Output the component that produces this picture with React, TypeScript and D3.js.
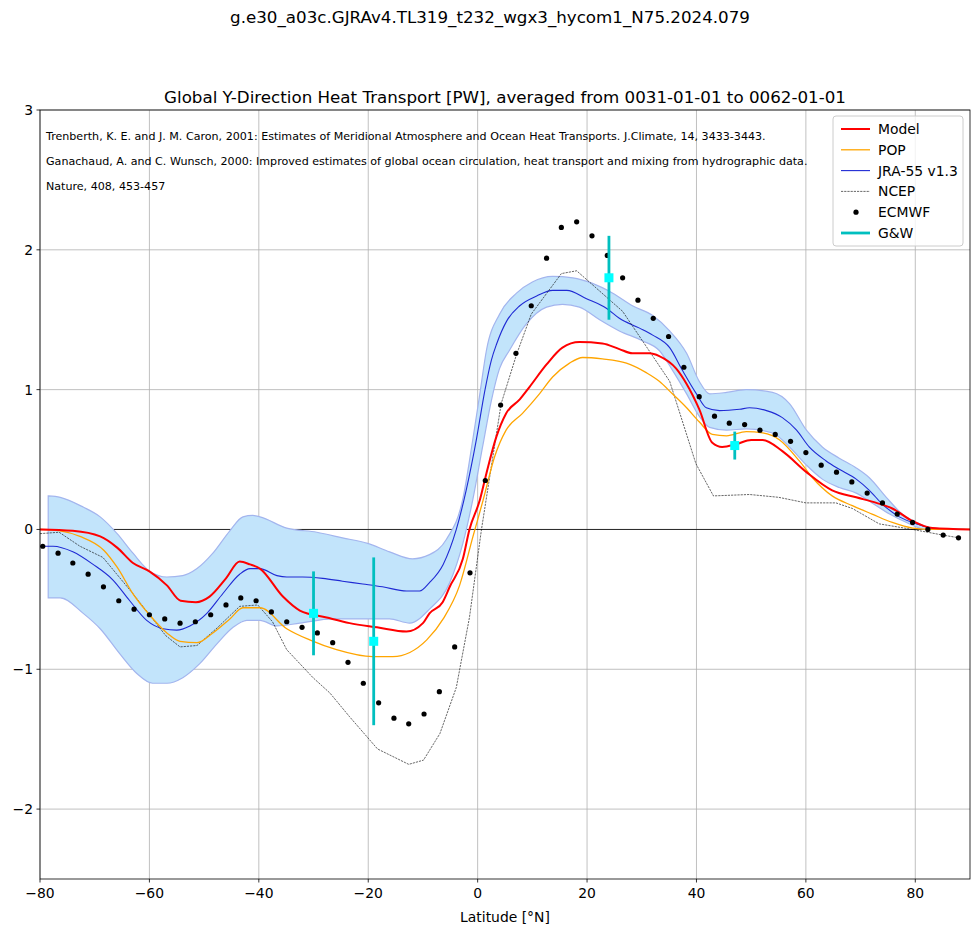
import React, { useEffect, useRef } from 'react';
import * as d3 from 'd3';

type Pt = [number, number];

// Model (red) [lat, PW]
const modelPts: Pt[] = [
  [-80, 0], [-74, -0.01], [-69, -0.05], [-65.9, -0.13], [-63, -0.24], [-60, -0.3], [-56.8, -0.4],
  [-54.3, -0.51], [-51.5, -0.52], [-49, -0.48], [-46, -0.35], [-43.5, -0.23], [-41.6, -0.25],
  [-39.8, -0.28], [-35.6, -0.48], [-32.5, -0.58], [-27.6, -0.63], [-23.4, -0.67], [-18.4, -0.7],
  [-13, -0.73], [-10, -0.67], [-8.8, -0.6], [-6.4, -0.52], [-5.1, -0.41], [-2.7, -0.21],
  [-1.5, 0.0], [0.4, 0.21], [1.6, 0.4], [3.4, 0.66], [5.2, 0.83], [7.7, 0.93], [9.5, 1.02],
  [12.6, 1.18], [15.5, 1.3], [18.6, 1.34], [22.8, 1.33], [25.9, 1.29], [28.3, 1.26], [31.4, 1.26],
  [33.2, 1.24], [36.3, 1.15], [38.2, 1.04], [40.5, 0.86], [42.9, 0.62], [44.7, 0.59], [47.3, 0.61],
  [50, 0.64], [52.1, 0.64], [55.7, 0.56], [60.1, 0.41], [64.8, 0.28], [69.2, 0.23], [72.9, 0.19],
  [75.8, 0.15], [79.5, 0.06], [83.1, 0.01], [90, 0],
];

// POP (orange)
const popPts: Pt[] = [
  [-80, 0], [-76.3, -0.01], [-72.7, -0.05], [-68.3, -0.15], [-65.9, -0.27], [-63, -0.46],
  [-60, -0.61], [-56.8, -0.74], [-54.4, -0.8], [-51.3, -0.81], [-48.4, -0.74], [-45.3, -0.64],
  [-42.9, -0.56], [-39.8, -0.56], [-34.9, -0.71], [-30.7, -0.79], [-25.8, -0.86], [-19.2, -0.91],
  [-15.5, -0.91], [-12.4, -0.88], [-9.3, -0.79], [-6.3, -0.64], [-3.3, -0.4], [-0.85, -0.05],
  [1.0, 0.21], [3.1, 0.52], [5.2, 0.71], [8.2, 0.83], [11.3, 0.97], [13.7, 1.09], [16.8, 1.19],
  [19.2, 1.23], [22.8, 1.22], [27.2, 1.19], [30.9, 1.12], [33.2, 1.06], [35.6, 0.97], [38.2, 0.87],
  [40.5, 0.77], [42.9, 0.68], [45.5, 0.67], [49.1, 0.7], [52.1, 0.69], [55.2, 0.64], [58.8, 0.49],
  [61.2, 0.37], [64.8, 0.24], [68.5, 0.17], [72.1, 0.11], [75.8, 0.05], [79.5, 0.01], [83.1, 0],
  [90, 0],
];

// JRA-55 v1.3 (blue)
const jraPts: Pt[] = [
  [-80, -0.12], [-77.6, -0.12], [-74, -0.16], [-70.3, -0.25], [-66.7, -0.36], [-63.6, -0.51],
  [-60.5, -0.65], [-57.5, -0.71], [-55, -0.72], [-52.6, -0.69], [-49.5, -0.6], [-46.6, -0.46],
  [-43.5, -0.32], [-41.6, -0.28], [-39.8, -0.28], [-36.7, -0.33], [-34.9, -0.34], [-32, -0.34],
  [-28.3, -0.35], [-24.7, -0.37], [-21, -0.39], [-17.4, -0.41], [-13, -0.44], [-10.6, -0.44],
  [-8.8, -0.38], [-6.3, -0.25], [-3.9, 0.0], [-2.1, 0.28], [-0.2, 0.65], [1.3, 0.99],
  [2.5, 1.21], [3.5, 1.33], [5.3, 1.49], [7.7, 1.6], [10.8, 1.67], [13.7, 1.71], [16.3, 1.71],
  [19.9, 1.65], [23.6, 1.58], [25.9, 1.51], [29.6, 1.44], [32, 1.39], [35.1, 1.3], [37.4, 1.14],
  [40, 0.97], [41.8, 0.87], [44.2, 0.85], [47.9, 0.86], [49.7, 0.87], [52.8, 0.85], [55.7, 0.8],
  [58.3, 0.71], [60.6, 0.59], [63.7, 0.49], [66.1, 0.43], [69.2, 0.36], [71.6, 0.28], [74, 0.18],
  [77.1, 0.09], [80.2, 0.04], [83.1, 0.01], [90, 0],
];

// JRA-55 spread (band)
const bandUpper: Pt[] = [
  [-78.5, 0.24], [-76.3, 0.23], [-72.1, 0.16], [-69, 0.09], [-65.9, -0.03], [-63, -0.17],
  [-59.9, -0.3], [-56.8, -0.34], [-53.9, -0.33], [-51.3, -0.28], [-48.4, -0.17], [-45.3, -0.01],
  [-42.9, 0.09], [-41.1, 0.1], [-39.8, 0.09], [-34.9, 0.01], [-29.4, -0.02], [-24.7, -0.06],
  [-20.1, -0.1], [-16.1, -0.16], [-11.9, -0.21], [-8.8, -0.18], [-5.7, -0.07], [-2.7, 0.22],
  [-0.9, 0.64], [0.4, 0.97], [1.6, 1.28], [4, 1.54], [7.1, 1.69], [10, 1.77], [13.7, 1.81],
  [17.4, 1.8], [21, 1.76], [24.7, 1.69], [28.3, 1.6], [32, 1.53], [35.1, 1.42], [38.2, 1.26],
  [40.5, 1.06], [42.4, 0.97], [45.5, 0.98], [49.1, 1.0], [53.9, 0.98], [57, 0.9], [60.1, 0.71],
  [63, 0.59], [66.1, 0.51], [69.2, 0.44], [71.6, 0.37], [74.7, 0.23], [77.6, 0.11], [80.7, 0.04],
  [84.4, 0.0], [89, 0],
];
const bandLower: Pt[] = [
  [-78.5, -0.49], [-76.3, -0.49], [-72.1, -0.6], [-69, -0.71], [-65.4, -0.89], [-62.3, -1.03],
  [-59.4, -1.1], [-56.8, -1.1], [-53.9, -1.06], [-50.8, -0.96], [-47.7, -0.82], [-44.7, -0.7],
  [-42.2, -0.65], [-39.8, -0.65], [-36.7, -0.69], [-32.5, -0.67], [-26.5, -0.64], [-20.3, -0.64],
  [-16.1, -0.64], [-12.4, -0.67], [-8.8, -0.57], [-5.1, -0.38], [-2.7, -0.1], [-0.9, 0.21],
  [0.9, 0.59], [2.5, 0.92], [4.0, 1.15], [5.8, 1.28], [8.9, 1.47], [12.6, 1.59], [15.5, 1.61],
  [18.6, 1.59], [22.3, 1.5], [25.9, 1.42], [30.1, 1.35], [33.2, 1.28], [35.6, 1.14], [38.2, 0.97],
  [40.5, 0.81], [42.4, 0.73], [45.5, 0.71], [49.1, 0.72], [53.9, 0.69], [57, 0.59], [60.1, 0.46],
  [63, 0.36], [66.1, 0.3], [69.2, 0.26], [72.1, 0.19], [75.3, 0.11], [78.4, 0.05], [82, 0.0],
  [89, 0],
];

// NCEP (thin dashed)
const ncepPts: Pt[] = [
  [-80, -0.03], [-76.5, -0.02], [-72.7, -0.12], [-68.5, -0.2], [-63, -0.46], [-60, -0.61],
  [-57, -0.76], [-54.4, -0.84], [-51.3, -0.83], [-47.5, -0.7], [-43.5, -0.55], [-40.2, -0.54],
  [-37.5, -0.66], [-34.9, -0.86], [-30.1, -1.06], [-27, -1.17], [-23.4, -1.34], [-18.3, -1.57],
  [-12.6, -1.68], [-9.9, -1.65], [-6.9, -1.46], [-3.9, -1.13], [-1.5, -0.63], [0.7, 0.0],
  [4.3, 0.9], [7.1, 1.25], [9.8, 1.54], [15.3, 1.83], [18.1, 1.85], [26.5, 1.56], [35.1, 1.06],
  [39.9, 0.47], [43.1, 0.24], [49.7, 0.25], [55, 0.23], [60, 0.19], [65.5, 0.19], [68.5, 0.15],
  [73.4, 0.04], [79.5, 0.0], [85, -0.04], [88, -0.06],
];

// ECMWF (dots)
const ecmwfLat = [
  -79.5, -76.7, -74.0, -71.2, -68.4, -65.6, -62.8, -60.0, -57.2, -54.4, -51.6, -48.8, -46.0,
  -43.3, -40.5, -37.7, -34.9, -32.1, -29.3, -26.5, -23.7, -20.9, -18.1, -15.3, -12.6, -9.8,
  -7.0, -4.2, -1.4, 1.4, 4.2, 7.0, 9.8, 12.6, 15.3, 18.1, 20.9, 23.7, 26.5, 29.3, 32.1, 34.9,
  37.7, 40.5, 43.3, 46.0, 48.8, 51.6, 54.4, 57.2, 60.0, 62.8, 65.6, 68.4, 71.2, 74.0, 76.7,
  79.5, 82.3, 85.1, 87.9,
];
const ecmwfVal = [
  -0.12, -0.17, -0.24, -0.32, -0.41, -0.51, -0.57, -0.61, -0.64, -0.67, -0.66, -0.61, -0.54,
  -0.49, -0.51, -0.59, -0.66, -0.7, -0.74, -0.81, -0.95, -1.1, -1.24, -1.35, -1.39, -1.32,
  -1.16, -0.84, -0.31, 0.35, 0.89, 1.26, 1.6, 1.94, 2.16, 2.2, 2.1, 1.96, 1.8, 1.64, 1.51, 1.38,
  1.16, 0.95, 0.81, 0.76, 0.75, 0.71, 0.68, 0.63, 0.55, 0.46, 0.41, 0.34, 0.26, 0.19, 0.11,
  0.05, 0.0, -0.04, -0.06,
];

// Ganachaud & Wunsch
const gwLat = [-30, -19, 24, 47];
const gwVal = [-0.6, -0.8, 1.8, 0.6];
const gwErr = [0.3, 0.6, 0.3, 0.1];

const xTicks = [-80, -60, -40, -20, 0, 20, 40, 60, 80];
const yTicks = [-2, -1, 0, 1, 2, 3];

const refLines = [
  'Trenberth, K. E. and J. M. Caron, 2001: Estimates of Meridional Atmosphere and Ocean Heat Transports. J.Climate, 14, 3433-3443.',
  'Ganachaud, A. and C. Wunsch, 2000: Improved estimates of global ocean circulation, heat transport and mixing from hydrographic data.',
  'Nature, 408, 453-457',
];

export default function App() {
  const svgRef = useRef<SVGSVGElement>(null);

  useEffect(() => {
    const width = 980;
    const height = 935;
    const m = { left: 40, right: 10, top: 110, bottom: 56 };
    const font = 'DejaVu Sans, sans-serif';

    const svg = d3.select(svgRef.current);
    svg.selectAll('*').remove();
    svg.attr('width', width).attr('height', height);

    const x = d3.scaleLinear().domain([-80, 90]).range([m.left, width - m.right]);
    const y = d3.scaleLinear().domain([-2.5, 3]).range([height - m.bottom, m.top]);

    svg.append('rect').attr('width', width).attr('height', height).attr('fill', 'white');

    svg.append('defs').append('clipPath').attr('id', 'plotclip')
      .append('rect')
      .attr('x', x(-80)).attr('y', y(3))
      .attr('width', x(90) - x(-80)).attr('height', y(-2.5) - y(3));

    // grid
    const grid = svg.append('g');
    grid.selectAll('line.gx').data(xTicks).enter().append('line')
      .attr('x1', d => x(d)).attr('x2', d => x(d))
      .attr('y1', y(3)).attr('y2', y(-2.5))
      .attr('stroke', '#b0b0b0').attr('stroke-width', 0.8);
    grid.selectAll('line.gy').data(yTicks).enter().append('line')
      .attr('x1', x(-80)).attr('x2', x(90))
      .attr('y1', d => y(d)).attr('y2', d => y(d))
      .attr('stroke', '#b0b0b0').attr('stroke-width', 0.8);

    const plot = svg.append('g').attr('clip-path', 'url(#plotclip)');

    // zero line
    plot.append('line')
      .attr('x1', x(-80)).attr('x2', x(90)).attr('y1', y(0)).attr('y2', y(0))
      .attr('stroke', 'black').attr('stroke-width', 0.8);

    // band
    const bandArea = d3.area<Pt>()
      .x(d => x(d[0])).y(d => y(d[1])).curve(d3.curveMonotoneX);
    const upperPath = d3.line<Pt>().x(d => x(d[0])).y(d => y(d[1])).curve(d3.curveMonotoneX);
    const upperD = upperPath(bandUpper) as string;
    const lowerD = upperPath([...bandLower].reverse()) as string;
    void bandArea;
    plot.append('path')
      .attr('d', upperD + 'L' + lowerD.slice(1) + 'Z')
      .attr('fill', '#c2e4fb')
      .attr('stroke', '#a3b5ee')
      .attr('stroke-width', 1.2);

    const line = d3.line<Pt>().x(d => x(d[0])).y(d => y(d[1])).curve(d3.curveMonotoneX);

    plot.append('path').attr('d', line(jraPts))
      .attr('fill', 'none').attr('stroke', '#1f2ad4').attr('stroke-width', 1.1);

    plot.append('path').attr('d', d3.line<Pt>().x(d => x(d[0])).y(d => y(d[1]))(ncepPts))
      .attr('fill', 'none').attr('stroke', 'black').attr('stroke-width', 0.6)
      .attr('stroke-dasharray', '2.2,1');

    plot.append('path').attr('d', line(popPts))
      .attr('fill', 'none').attr('stroke', '#ffa500').attr('stroke-width', 1.3);

    plot.append('path').attr('d', line(modelPts))
      .attr('fill', 'none').attr('stroke', '#ff0000').attr('stroke-width', 2);

    // ECMWF dots
    plot.selectAll('circle.ec').data(ecmwfLat).enter().append('circle')
      .attr('cx', d => x(d)).attr('cy', (_, i) => y(ecmwfVal[i])).attr('r', 2.6)
      .attr('fill', 'black');

    // G&W error bars
    const gw = plot.append('g');
    gwLat.forEach((lat, i) => {
      gw.append('line')
        .attr('x1', x(lat)).attr('x2', x(lat))
        .attr('y1', y(gwVal[i] + gwErr[i])).attr('y2', y(gwVal[i] - gwErr[i]))
        .attr('stroke', '#00bfbf').attr('stroke-width', 2.8);
      gw.append('rect')
        .attr('x', x(lat) - 4.5).attr('y', y(gwVal[i]) - 4.5)
        .attr('width', 9).attr('height', 9).attr('fill', '#00ffff');
    });

    // spines
    svg.append('rect')
      .attr('x', x(-80)).attr('y', y(3))
      .attr('width', x(90) - x(-80)).attr('height', y(-2.5) - y(3))
      .attr('fill', 'none').attr('stroke', 'black').attr('stroke-width', 0.8);

    // ticks
    const fmt = (v: number) => (v < 0 ? '\u2212' + Math.abs(v) : String(v));
    const xt = svg.append('g');
    xTicks.forEach(t => {
      xt.append('line').attr('x1', x(t)).attr('x2', x(t))
        .attr('y1', y(-2.5)).attr('y2', y(-2.5) + 3.5).attr('stroke', 'black').attr('stroke-width', 0.8);
      xt.append('text').attr('x', x(t)).attr('y', y(-2.5) + 19)
        .attr('text-anchor', 'middle').attr('font-family', font).attr('font-size', 13.9)
        .text(fmt(t));
    });
    const yt = svg.append('g');
    yTicks.forEach(t => {
      yt.append('line').attr('x1', x(-80) - 3.5).attr('x2', x(-80))
        .attr('y1', y(t)).attr('y2', y(t)).attr('stroke', 'black').attr('stroke-width', 0.8);
      yt.append('text').attr('x', x(-80) - 7).attr('y', y(t) + 5)
        .attr('text-anchor', 'end').attr('font-family', font).attr('font-size', 13.9)
        .text(fmt(t));
    });

    // labels and titles
    svg.append('text').attr('x', (x(-80) + x(90)) / 2).attr('y', 922)
      .attr('text-anchor', 'middle').attr('font-family', font).attr('font-size', 13.9)
      .text('Latitude [°N]');
    svg.append('text').attr('x', (x(-80) + x(90)) / 2).attr('y', 103)
      .attr('text-anchor', 'middle').attr('font-family', font).attr('font-size', 16.7)
      .text('Global Y-Direction Heat Transport [PW], averaged from 0031-01-01 to 0062-01-01');
    svg.append('text').attr('x', width / 2).attr('y', 23)
      .attr('text-anchor', 'middle').attr('font-family', font).attr('font-size', 16.7)
      .text('g.e30_a03c.GJRAv4.TL319_t232_wgx3_hycom1_N75.2024.079');

    refLines.forEach((s, i) => {
      svg.append('text').attr('x', 46).attr('y', 140 + i * 25)
        .attr('font-family', font).attr('font-size', 11.1).text(s);
    });

    // legend
    const lg = svg.append('g').attr('transform', 'translate(833,116)');
    lg.append('rect').attr('width', 130).attr('height', 130).attr('rx', 3)
      .attr('fill', 'white').attr('fill-opacity', 0.8)
      .attr('stroke', '#cccccc').attr('stroke-width', 1);
    const items = [
      { label: 'Model', color: '#ff0000', w: 2, dash: '' },
      { label: 'POP', color: '#ffa500', w: 1.3, dash: '' },
      { label: 'JRA-55 v1.3', color: '#1f2ad4', w: 1.1, dash: '' },
      { label: 'NCEP', color: 'black', w: 0.6, dash: '2.2,1' },
      { label: 'ECMWF', color: 'black', w: 0, dash: '' },
      { label: 'G&W', color: '#00bfbf', w: 2.8, dash: '' },
    ];
    items.forEach((it, i) => {
      const cy = 13 + i * 20.8;
      if (it.label === 'ECMWF') {
        lg.append('circle').attr('cx', 23).attr('cy', cy).attr('r', 2.6).attr('fill', 'black');
      } else {
        lg.append('line').attr('x1', 8).attr('x2', 37).attr('y1', cy).attr('y2', cy)
          .attr('stroke', it.color).attr('stroke-width', it.w)
          .attr('stroke-dasharray', it.dash || null);
      }
      lg.append('text').attr('x', 45).attr('y', cy + 5)
        .attr('font-family', font).attr('font-size', 13.9).text(it.label);
    });
  }, []);

  return (
    <svg ref={svgRef} style={{ position: 'absolute', left: 0, top: 0, display: 'block' }} />
  );
}
